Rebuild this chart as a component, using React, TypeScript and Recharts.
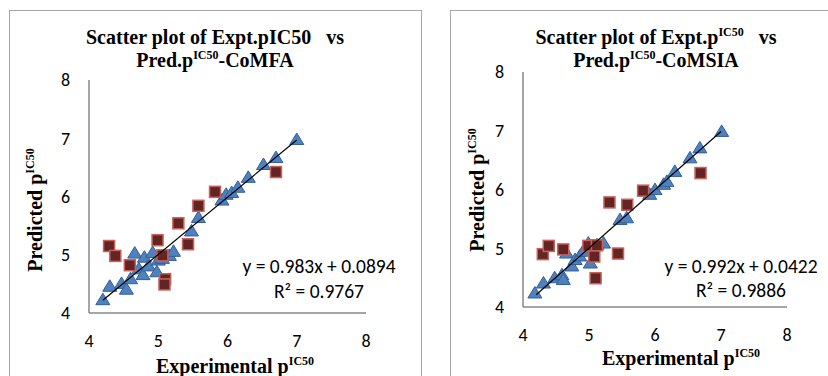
import { Scatter, ScatterChart, XAxis, YAxis } from "recharts";

type Pair = [number, number];

const axisTicks = [4, 5, 6, 7, 8];

// CoMFA panel (training = triangles, test = squares)
const comfaTrain: Pair[] = [
  [4.2, 4.22], [4.3, 4.45], [4.47, 4.5], [4.54, 4.4], [4.6, 4.58], [4.66, 5.02],
  [4.72, 4.75], [4.78, 4.65], [4.8, 4.95], [4.86, 4.8], [4.92, 5.03], [4.98, 4.7],
  [5.0, 4.9], [5.06, 4.93], [5.16, 4.98], [5.22, 5.05], [5.48, 5.4], [5.58, 5.63],
  [5.92, 5.93], [5.98, 6.03], [6.06, 6.06], [6.15, 6.15], [6.3, 6.32], [6.52, 6.54],
  [6.7, 6.66], [7.0, 6.97],
];
const comfaTest: Pair[] = [
  [4.29, 5.15], [4.38, 4.98], [4.59, 4.82], [4.99, 5.25], [5.06, 4.99], [5.1, 4.58],
  [5.09, 4.49], [5.29, 5.54], [5.43, 5.18], [5.58, 5.84], [5.82, 6.08], [6.7, 6.42],
];

// CoMSIA panel
const comsiaTrain: Pair[] = [
  [4.18, 4.23], [4.31, 4.4], [4.48, 4.49], [4.59, 4.54], [4.61, 4.46], [4.66, 4.91],
  [4.74, 4.69], [4.79, 4.8], [4.86, 4.86], [4.91, 4.94], [4.99, 5.08], [5.02, 4.74],
  [5.12, 5.05], [5.22, 5.08], [5.47, 5.48], [5.57, 5.51], [5.92, 5.91], [6.0, 5.99],
  [6.13, 6.08], [6.18, 6.13], [6.3, 6.3], [6.53, 6.53], [6.68, 6.7], [7.01, 6.98],
];
const comsiaTest: Pair[] = [
  [4.3, 4.9], [4.39, 5.04], [4.61, 4.98], [4.99, 5.04], [5.12, 5.05], [5.08, 4.86],
  [5.1, 4.49], [5.44, 4.91], [5.31, 5.78], [5.58, 5.74], [5.82, 5.98], [6.69, 6.28],
];

// linear fits shown on the charts
const comfaFit = { slope: 0.983, intercept: 0.0894 };
const comsiaFit = { slope: 0.992, intercept: 0.0422 };
const fitRange = [4.2, 7.0];

const toPoints = (pairs: Pair[]) => pairs.map(([x, y]) => ({ x, y }));
const fitLine = (fit: { slope: number; intercept: number }) =>
  fitRange.map((x) => ({ x, y: fit.slope * x + fit.intercept }));

const sans = "Carlito, Lato, 'Open Sans', sans-serif";
const tickFont = { fontFamily: sans, fontSize: 18, fill: "#000" };
const serif = "'Liberation Serif', 'Times New Roman', serif";
const axisColor = "#888888";

function Triangle(props: any) {
  const { cx, cy } = props;
  if (cx == null || cy == null) return <g />;
  return (
    <path
      d={`M${cx},${cy - 7} L${cx + 7},${cy + 4.5} L${cx - 7},${cy + 4.5} Z`}
      fill="#4F81BD"
      stroke="#335E99"
      strokeWidth={1}
    />
  );
}

function Square(props: any) {
  const { cx, cy } = props;
  if (cx == null || cy == null) return <g />;
  return <rect x={cx - 5.5} y={cy - 5.5} width={11} height={11} fill="#632523" stroke="#C8605C" strokeWidth={1.5} />;
}

const NoDot = () => <g />;

type PanelProps = {
  left: number;
  width: number;
  margin: { top: number; right: number; bottom: number; left: number };
  train: Pair[];
  test: Pair[];
  fit: { slope: number; intercept: number };
};

function ScatterPanel({ left, width, margin, train, test, fit }: PanelProps) {
  return (
    <div style={{ position: "absolute", left, top: 0 }}>
      <ScatterChart width={width} height={376} margin={margin}>
        <XAxis
          type="number"
          dataKey="x"
          domain={[4, 8]}
          ticks={axisTicks}
          height={30}
          tickLine={false}
          tickSize={0}
          tickMargin={21}
          axisLine={{ stroke: axisColor, strokeWidth: 1.5 }}
          tick={tickFont}
        />
        <YAxis
          type="number"
          dataKey="y"
          domain={[4, 8]}
          ticks={axisTicks}
          width={30}
          tickLine={false}
          tickSize={0}
          tickMargin={19}
          axisLine={{ stroke: axisColor, strokeWidth: 1.5 }}
          tick={tickFont}
        />
        <Scatter data={toPoints(train)} shape={Triangle} isAnimationActive={false} />
        <Scatter data={toPoints(test)} shape={Square} isAnimationActive={false} />
        <Scatter
          data={fitLine(fit)}
          shape={NoDot}
          line={{ stroke: "#000", strokeWidth: 1.2 }}
          lineType="joint"
          isAnimationActive={false}
        />
      </ScatterChart>
    </div>
  );
}

// text with a raised "IC50" in the middle
function SupText({ before, sup, after }: { before: string; sup: string; after?: string }) {
  return (
    <>
      <tspan>{before}</tspan>
      <tspan fontSize={12} dy={-8}>{sup}</tspan>
      {after ? <tspan dy={8}>{after}</tspan> : null}
    </>
  );
}

export default function App() {
  return (
    <div style={{ position: "absolute", left: 0, top: 0, width: 828, height: 376, overflow: "hidden", background: "#fff" }}>
      <div style={{ position: "absolute", left: 9, top: 10, width: 411, height: 400, border: "1.5px solid #a6a6a6" }} />
      <div style={{ position: "absolute", left: 450, top: 10, width: 420, height: 400, border: "1.5px solid #a6a6a6" }} />

      <ScatterPanel
        left={0}
        width={421}
        margin={{ top: 80, right: 55, bottom: 33, left: 59 }}
        train={comfaTrain}
        test={comfaTest}
        fit={comfaFit}
      />
      <ScatterPanel
        left={430}
        width={398}
        margin={{ top: 72, right: 41, bottom: 39, left: 63 }}
        train={comsiaTrain}
        test={comsiaTest}
        fit={comsiaFit}
      />

      <svg width={828} height={376} style={{ position: "absolute", left: 0, top: 0, pointerEvents: "none" }}>
        <g fontFamily={serif} fontWeight="bold" fontSize={20} textAnchor="middle" fill="#000">
          <text x={215} y={44}>Scatter plot of Expt.pIC50{"\u00a0\u00a0\u00a0"}vs</text>
          <text x={215} y={67}>
            <SupText before="Pred.p" sup="IC50" after="-CoMFA" />
          </text>
          <text x={235} y={373}>
            <SupText before="Experimental p" sup="IC50" />
          </text>
          <text transform="translate(42,210) rotate(-90)">
            <SupText before="Predicted p" sup="IC50" />
          </text>

          <text x={656} y={44}>
            <SupText before="Scatter plot of Expt.p" sup="IC50" after={"\u00a0\u00a0\u00a0vs"} />
          </text>
          <text x={656} y={67}>
            <SupText before="Pred.p" sup="IC50" after="-CoMSIA" />
          </text>
          <text x={681} y={365}>
            <SupText before="Experimental p" sup="IC50" />
          </text>
          <text transform="translate(484,190) rotate(-90)">
            <SupText before="Predicted p" sup="IC50" />
          </text>
        </g>
        <g fontFamily={sans} fontSize={19.5} textAnchor="middle" fill="#000">
          <text x={319} y={273}>y = 0.983x + 0.0894</text>
          <text x={319} y={298}>R² = 0.9767</text>
          <text x={741} y={273}>y = 0.992x + 0.0422</text>
          <text x={741} y={297}>R² = 0.9886</text>
        </g>
      </svg>
    </div>
  );
}
